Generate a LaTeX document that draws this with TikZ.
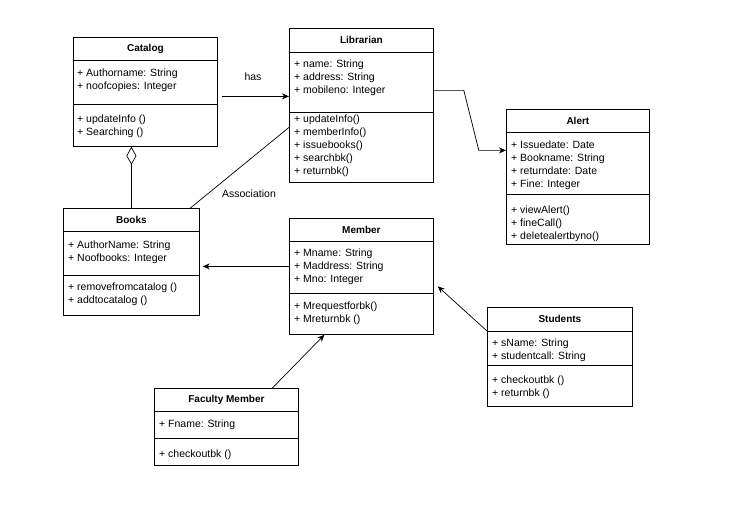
\documentclass[tikz,border=0pt]{standalone}
\usepackage{fontspec}
\setmainfont{Liberation Sans}
\usetikzlibrary{positioning,arrows.meta}

\begin{document}
\begin{tikzpicture}[x=1pt, y=1pt,
  classbox/.style={draw, line width=0.8pt, anchor=north west, inner sep=0pt, fill=white},
  classtitle/.style={inner sep=0pt, font=\fontsize{10}{12}\selectfont\bfseries},
  members/.style={anchor=north west, align=left, inner sep=0pt, font=\fontsize{10.5}{13}\selectfont},
  divider/.style={line width=0.8pt},
  link/.style={line width=0.7pt},
  note/.style={inner sep=0pt, font=\fontsize{10.5}{13}\selectfont}]
\useasboundingbox[fill=white] (0,0) rectangle (753,-532);

% Catalog
\node[classbox, minimum width=144pt, minimum height=109pt] (catalog) at (73,-37) {};
\draw[divider] ([yshift=-23pt]catalog.north west) -- ([yshift=-23pt]catalog.north east);
\draw[divider] ([yshift=-67pt]catalog.north west) -- ([yshift=-67pt]catalog.north east);
\node[classtitle] (catalogtitle) at ([yshift=-11.5pt]catalog.north) {Catalog};
\node[members] (catalogattr) at ([xshift=4pt,yshift=-32pt]catalog.north west) {+ Authorname: String\\+ noofcopies: Integer};
\node[members] (catalogops) at ([xshift=4pt,yshift=-78pt]catalog.north west) {+ updateInfo ()\\+ Searching ()};

% Librarian
\node[classbox, minimum width=144pt, minimum height=154pt] (librarian) at (289,-28) {};
\draw[divider] ([yshift=-24pt]librarian.north west) -- ([yshift=-24pt]librarian.north east);
\draw[divider] ([yshift=-84pt]librarian.north west) -- ([yshift=-84pt]librarian.north east);
\node[classtitle] (librariantitle) at ([yshift=-12pt]librarian.north) {Librarian};
\node[members] (librarianattr) at ([xshift=5pt,yshift=-32pt]librarian.north west) {+ name: String\\+ address: String\\+ mobileno: Integer};
\node[members] (librarianops) at ([xshift=5pt,yshift=-87pt]librarian.north west) {+ updateInfo()\\+ memberInfo()\\+ issuebooks()\\+ searchbk()\\+ returnbk()};

% Alert
\node[classbox, minimum width=143pt, minimum height=135pt] (alert) at (506,-109) {};
\draw[divider] ([yshift=-23pt]alert.north west) -- ([yshift=-23pt]alert.north east);
\draw[divider] ([yshift=-85pt]alert.north west) -- ([yshift=-85pt]alert.north east);
\node[classtitle] (alerttitle) at ([yshift=-11.5pt]alert.north) {Alert};
\node[members] (alertattr) at ([xshift=5pt,yshift=-32pt]alert.north west) {+ Issuedate: Date\\+ Bookname: String\\+ returndate: Date\\+ Fine: Integer};
\node[members] (alertops) at ([xshift=5pt,yshift=-97pt]alert.north west) {+ viewAlert()\\+ fineCall()\\+ deletealertbyno()};

% Books
\node[classbox, minimum width=136pt, minimum height=107pt] (books) at (63,-208) {};
\draw[divider] ([yshift=-23pt]books.north west) -- ([yshift=-23pt]books.north east);
\draw[divider] ([yshift=-67pt]books.north west) -- ([yshift=-67pt]books.north east);
\node[classtitle] (bookstitle) at ([yshift=-11.5pt]books.north) {Books};
\node[members] (booksattr) at ([xshift=5pt,yshift=-33pt]books.north west) {+ AuthorName: String\\+ Noofbooks: Integer};
\node[members] (booksops) at ([xshift=5pt,yshift=-75pt]books.north west) {+ removefromcatalog ()\\+ addtocatalog ()};

% Member
\node[classbox, minimum width=144pt, minimum height=116pt] (member) at (289,-218) {};
\draw[divider] ([yshift=-23pt]member.north west) -- ([yshift=-23pt]member.north east);
\draw[divider] ([yshift=-75pt]member.north west) -- ([yshift=-75pt]member.north east);
\node[classtitle] (membertitle) at ([yshift=-11.5pt]member.north) {Member};
\node[members] (memberattr) at ([xshift=5pt,yshift=-31pt]member.north west) {+ Mname: String\\+ Maddress: String\\+ Mno: Integer};
\node[members] (memberops) at ([xshift=5pt,yshift=-84pt]member.north west) {+ Mrequestforbk()\\+ Mreturnbk ()};

% Students
\node[classbox, minimum width=145pt, minimum height=99pt] (students) at (487,-307) {};
\draw[divider] ([yshift=-24pt]students.north west) -- ([yshift=-24pt]students.north east);
\draw[divider] ([yshift=-58pt]students.north west) -- ([yshift=-58pt]students.north east);
\node[classtitle] (studentstitle) at ([yshift=-12pt]students.north) {Students};
\node[members] (studentsattr) at ([xshift=5pt,yshift=-32pt]students.north west) {+ sName: String\\+ studentcall: String};
\node[members] (studentsops) at ([xshift=5pt,yshift=-69pt]students.north west) {+ checkoutbk ()\\+ returnbk ()};

% Faculty Member
\node[classbox, minimum width=144pt, minimum height=77pt] (faculty) at (154,-388) {};
\draw[divider] ([yshift=-23pt]faculty.north west) -- ([yshift=-23pt]faculty.north east);
\draw[divider] ([yshift=-50pt]faculty.north west) -- ([yshift=-50pt]faculty.north east);
\node[classtitle] (facultytitle) at ([yshift=-11.5pt]faculty.north) {Faculty Member};
\node[members] (facultyattr) at ([xshift=5pt,yshift=-32pt]faculty.north west) {+ Fname: String};
\node[members] (facultyops) at ([xshift=5pt,yshift=-62pt]faculty.north west) {+ checkoutbk ()};

% connectors
\draw[link, -{Stealth[length=7pt,width=6pt]}] ([xshift=4pt,yshift=-4.5pt]catalog.east) -- ([yshift=-4.5pt]catalog.east -| librarian.west);
\node[note] (haslabel) at (253,-77) {has};
\draw[link, -{Stealth[length=7pt,width=6pt]}] ([yshift=15pt]librarian.east) -- ++(30,0) -- ++(15,-60) -- ([yshift=26.5pt]alert.west);
\draw[link] ([yshift=-22pt]librarian.west) -- ([xshift=59pt]books.north);
\node[note] (assoclabel) at (249,-194) {Association};
\draw[link, {Diamond[open,length=18pt,width=10pt]}-] (books.north |- catalog.south) -- (books.north);
\draw[link, -{Stealth[length=7pt,width=6pt]}] ([yshift=10pt]member.west) -- ([xshift=3pt,yshift=10pt]member.west -| books.east);
\draw[link, -{Stealth[length=7pt,width=6pt]}] ([yshift=-24pt]students.north west) -- ([xshift=4pt,yshift=-10pt]member.east);
\draw[link, -{Stealth[length=7pt,width=6pt]}] ([xshift=46pt]faculty.north) -- ([xshift=-37pt]member.south);
\end{tikzpicture}
\end{document}
